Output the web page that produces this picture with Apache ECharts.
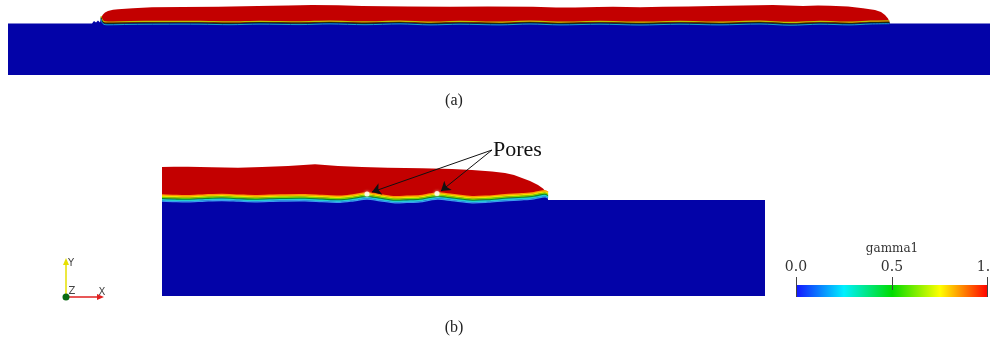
<!DOCTYPE html>
<html>
<head>
<meta charset="utf-8">
<script src="https://cdn.jsdelivr.net/npm/echarts@6/dist/echarts.min.js"></script>
<style>
html, body { margin: 0; padding: 0; background: #fff; }
#chart { width: 990px; height: 342px; }
</style>
</head>
<body>
<div id="chart"></div>
<script>
// panel (a): long track. x, y measured from the substrate's lower-left corner
const domainA = [982, 75];
const substrateLeftA = [[0, 51.5], [84, 51.5], [86, 54], [88, 52.5], [90, 54.5], [92, 52.5]];
const substrateRightA = [[882, 51.5], [982, 51.5]];
const trackTopA = [[93, 57.5], [95, 60.5], [97, 62.5], [100, 64], [105, 65.2], [110, 65.7], [125, 66.8], [144, 67.7],
  [175, 68], [210, 68.3], [250, 69], [280, 69.6], [304, 70], [330, 69.8], [354, 69], [400, 68.6], [442, 68.3],
  [480, 68.6], [525, 68.3], [548, 67.6], [567, 67.5], [590, 68], [605, 68.3], [632, 67.7], [655, 68.3],
  [680, 68.6], [705, 69], [735, 69.4], [765, 70], [780, 69.4], [795, 69], [810, 69.6], [822, 69.3], [840, 68.4],
  [855, 66.7], [867, 65], [873, 63], [877, 60], [880, 56.5], [881.5, 53]];
const interfaceA = [[93, 57.5], [94, 54], [96, 52], [100, 51.6], [122, 52], [152, 52.2], [192, 52.2], [222, 51.7],
  [252, 52.3], [292, 51.8], [322, 52.5], [357, 51.7], [392, 52.5], [422, 51.5], [452, 52.2], [492, 51.5],
  [522, 52.4], [552, 51.5], [592, 52.2], [632, 51.4], [672, 52.2], [712, 51.5], [752, 52.4], [782, 51.2],
  [812, 52.2], [842, 51.5], [862, 52.4], [881.5, 52.7]];

// panel (b): short track with pores at the fusion line
const domainB = [603, 150];
const substrateRightB = [[386, 96], [603, 96]];
const trackTopB = [[0, 129], [12, 129.2], [26, 129.3], [50, 128.8], [76, 128.3], [100, 129], [126, 130],
  [153, 131.7], [176, 130], [200, 129], [226, 128.3], [260, 127.7], [290, 127], [310, 126], [330, 124.5],
  [343, 123], [352, 121], [360, 118], [368, 115], [376, 111], [381, 107.5], [384, 104], [386, 100.5]];
const interfaceB = [[0, 97.7], [13, 97.2], [26, 97], [43, 97.8], [60, 98.3], [77, 97.6], [93, 97], [118, 97.8],
  [143, 98], [160, 97.2], [178, 96.5], [192, 98], [205, 99.8], [218, 98], [233, 96], [245, 96.4], [258, 97],
  [268, 98.7], [276, 99.8], [290, 98.2], [310, 96], [326, 96.6], [343, 98], [360, 99], [372, 100], [383, 102],
  [386, 100.5]];
const poresB = [[205, 102], [275, 102.5]];
const poreArrowTail = [330, 146];
const poreArrowHeads = [[210, 104], [279, 105]];

// colour bar
const gammaRange = [0, 1];
const gammaStep = 0.5;
const gammaTicks = [0, 0.5, 1];

const BLUE = '#0303a8';
const RED = '#c30000';

const bandsA = [
  { dy: -1.4, color: '#b8c400', width: 1.2 },
  { dy: 0, color: '#1a2a12', width: 1.2 },
  { dy: 1.4, color: '#14a8c8', width: 1 }
];
const bandsB = [
  { dy: -3.2, color: '#ff9a00', width: 1.6 },
  { dy: -2, color: '#f2e200', width: 1.6 },
  { dy: -0.8, color: '#7cd400', width: 1.6 },
  { dy: 0.4, color: '#0a8a2a', width: 1.3 },
  { dy: 1.6, color: '#22d0d0', width: 1.6 },
  { dy: 2.8, color: '#3a9cf0', width: 1.3 }
];

function layerRenderer(top, iface, subLeft, subRight, xMax, bands) {
  return function (params, api) {
    const toPx = pts => pts.map(p => api.coord(p));
    const ground = [[0, 0]].concat(subLeft, iface, subRight, [[xMax, 0]]);
    const melt = top.concat(iface.slice().reverse());
    const children = [
      { type: 'polygon', shape: { points: toPx(ground) }, style: { fill: BLUE } },
      { type: 'polygon', shape: { points: toPx(melt) }, style: { fill: RED } }
    ];
    const line = toPx(iface);
    bands.forEach(b => {
      children.push({
        type: 'polyline',
        shape: { points: line.map(p => [p[0], p[1] + b.dy]), smooth: 0.3 },
        style: { stroke: b.color, lineWidth: b.width, fill: null }
      });
    });
    return { type: 'group', children };
  };
}

function colorBarRenderer(params, api) {
  const a = api.coord([gammaRange[0], 1]);
  const b = api.coord([gammaRange[1], 0]);
  const children = [{
    type: 'rect',
    shape: { x: a[0], y: a[1], width: b[0] - a[0], height: b[1] - a[1] },
    style: {
      fill: new echarts.graphic.LinearGradient(0, 0, 1, 0, [
        { offset: 0, color: '#1414ff' },
        { offset: 0.25, color: '#00f0ff' },
        { offset: 0.5, color: '#00dc00' },
        { offset: 0.75, color: '#ffff00' },
        { offset: 1, color: '#ff0000' }
      ])
    }
  }];
  gammaTicks.forEach(t => {
    const top = api.coord([t, 1]);
    const bot = api.coord([t, 0]);
    const isEnd = t === gammaRange[0] || t === gammaRange[1];
    const x = Math.round(top[0]) + (t === gammaRange[1] ? -0.5 : 0.5);
    children.push({
      type: 'line',
      shape: { x1: x, y1: top[1] - 8, x2: x, y2: isEnd ? bot[1] : top[1] + 5 },
      style: { stroke: '#444', lineWidth: 1 }
    });
  });
  return { type: 'group', children };
}

const barFont = 'DejaVu Serif';

const chart = echarts.init(document.getElementById('chart'));
chart.setOption({
  animation: false,
  backgroundColor: '#fff',
  grid: [
    { left: 8, top: 0, width: 982, height: 75, outerBoundsMode: 'none' },
    { left: 162, top: 146, width: 603, height: 150, outerBoundsMode: 'none' },
    { left: 796, top: 285, width: 192, height: 12, outerBoundsMode: 'none' }
  ],
  xAxis: [
    { gridIndex: 0, type: 'value', min: 0, max: domainA[0], show: false },
    { gridIndex: 1, type: 'value', min: 0, max: domainB[0], show: false },
    {
      gridIndex: 2, type: 'value', min: gammaRange[0], max: gammaRange[1], interval: gammaStep,
      position: 'top', z: 5,
      name: 'gamma1', nameLocation: 'middle', nameGap: 30,
      nameTextStyle: { fontFamily: barFont, fontSize: 12, color: '#333' },
      axisLine: { show: false },
      axisTick: { show: false },
      axisLabel: {
        formatter: v => v.toFixed(1), fontFamily: barFont, fontSize: 14, color: '#333', margin: 11,
        showMinLabel: true, showMaxLabel: true
      },
      splitLine: { show: false }
    }
  ],
  yAxis: [
    { gridIndex: 0, type: 'value', min: 0, max: domainA[1], show: false },
    { gridIndex: 1, type: 'value', min: 0, max: domainB[1], show: false },
    { gridIndex: 2, type: 'value', min: 0, max: 1, show: false }
  ],
  series: [
    {
      type: 'custom', xAxisIndex: 0, yAxisIndex: 0, data: [0], silent: true,
      renderItem: layerRenderer(trackTopA, interfaceA, substrateLeftA, substrateRightA, domainA[0], bandsA)
    },
    {
      type: 'custom', xAxisIndex: 1, yAxisIndex: 1, data: [0], silent: true,
      renderItem: layerRenderer(trackTopB, interfaceB, [], substrateRightB, domainB[0], bandsB)
    },
    {
      type: 'scatter', xAxisIndex: 1, yAxisIndex: 1, data: poresB, symbolSize: 5, z: 4,
      itemStyle: { color: '#fff', shadowColor: '#ffffcc', shadowBlur: 3 }
    },
    {
      type: 'lines', coordinateSystem: 'cartesian2d', xAxisIndex: 1, yAxisIndex: 1, z: 5,
      data: poreArrowHeads.map(h => ({ coords: [poreArrowTail, h] })),
      symbol: ['none', 'arrow'], symbolSize: 9,
      lineStyle: { color: '#111', width: 1, opacity: 1 }
    },
    {
      type: 'custom', xAxisIndex: 2, yAxisIndex: 2, data: [0], silent: true, z: 1,
      renderItem: colorBarRenderer
    }
  ],
  graphic: [
    { type: 'text', x: 454, y: 101, style: { text: '(a)', font: '16px "Liberation Serif"', fill: '#222', align: 'center', verticalAlign: 'middle' } },
    { type: 'text', x: 454, y: 328, style: { text: '(b)', font: '16px "Liberation Serif"', fill: '#222', align: 'center', verticalAlign: 'middle' } },
    { type: 'text', x: 493, y: 150, style: { text: 'Pores', font: '22px "Liberation Serif"', fill: '#111', align: 'left', verticalAlign: 'middle' } },
    // orientation triad
    { type: 'line', shape: { x1: 66, y1: 297, x2: 66, y2: 263 }, style: { stroke: '#e6e000', lineWidth: 1.5 } },
    { type: 'polygon', shape: { points: [[63, 265], [69, 265], [66, 258]] }, style: { fill: '#e6e000' } },
    { type: 'line', shape: { x1: 66, y1: 297, x2: 99, y2: 297 }, style: { stroke: '#e02020', lineWidth: 1.5 } },
    { type: 'polygon', shape: { points: [[97, 294], [97, 300], [104, 297]] }, style: { fill: '#e02020' } },
    { type: 'circle', shape: { cx: 66, cy: 297, r: 3.5 }, style: { fill: '#0a6a14' } },
    { type: 'text', x: 71, y: 263, style: { text: 'Y', font: '10px "DejaVu Sans"', fill: '#444', align: 'center', verticalAlign: 'middle' } },
    { type: 'text', x: 72, y: 291, style: { text: 'Z', font: '10px "DejaVu Sans"', fill: '#444', align: 'center', verticalAlign: 'middle' } },
    { type: 'text', x: 102, y: 292, style: { text: 'X', font: '10px "DejaVu Sans"', fill: '#444', align: 'center', verticalAlign: 'middle' } }
  ]
});
</script>
</body>
</html>
